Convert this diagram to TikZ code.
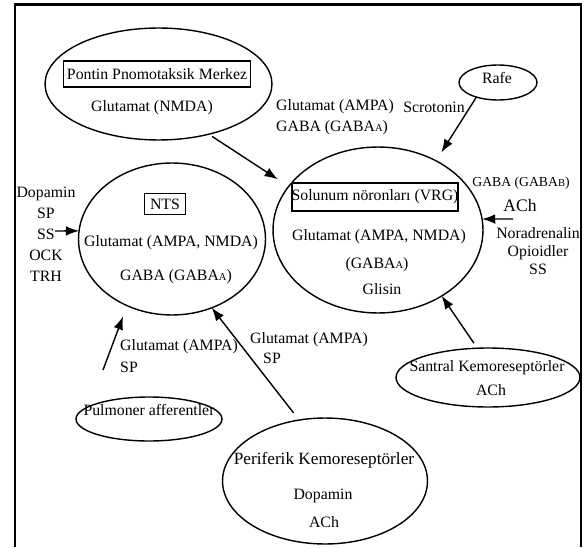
\documentclass[tikz,border=0pt]{standalone}
\usepackage{fontspec}
\setmainfont{Liberation Serif}
\usetikzlibrary{shapes.geometric,arrows.meta}
\newcommand{\lowA}{{\fontsize{6}{6}\selectfont A}}
\newcommand{\lowB}{{\fontsize{6}{6}\selectfont B}}

\begin{document}
\begin{tikzpicture}[x=0.02cm, y=-0.02cm,
                every node/.style={font=\fontsize{9}{11}\selectfont},
                region/.style={draw, ellipse, line width=0.8pt, inner sep=0pt, outer sep=0pt},
                titlebox/.style={draw, line width=1.1pt, inner sep=0pt},
                arr/.style={-{Latex[length=7.5pt,width=5.5pt]}, line width=0.8pt}]

                \useasboundingbox (0,0) rectangle (584,547);

                % Frame
                \draw[line width=1.3pt] (15,547) -- (15,4.5) -- (581,4.5) -- (581,547);

                % Pontin
                \node[region, minimum width=4.54cm, minimum height=2.24cm] (pontin) at (158.5,84) {};
                \node[titlebox, minimum width=3.74cm, minimum height=0.52cm] (pontinT) at (157,74) {Pontin Pnomotaksik Merkez};
                \node (pontinG) at (152,108) {Glutamat (NMDA)};

                % Rafe
                \node[region, minimum width=1.56cm, minimum height=0.70cm] (rafe) at (498,82.5) {};
                \node (rafeT) at (497,78) {Rafe};

                % VRG
                \node[region, minimum width=4.2cm, minimum height=3.32cm] (vrg) at (378,230) {};
                \node[titlebox, minimum width=3.28cm, minimum height=0.56cm] (vrgT) at (375,197) {Solunum nöronları (VRG)};
                \node (vrgG) at (379,237) {Glutamat (AMPA, NMDA)};
                \node (vrgA) at (377,265) {(GABA\lowA)};
                \node (vrgS) at (382,289) {Glisin};

                % NTS
                \node[region, minimum width=3.74cm, minimum height=3.04cm] (nts) at (172,239) {};
                \node[titlebox, minimum width=0.82cm, minimum height=0.42cm] (ntsT) at (165,204) {NTS};
                \node (ntsG) at (171,243) {Glutamat (AMPA, NMDA)};
                \node (ntsA) at (176,277) {GABA (GABA\lowA)};

                % Pulmoner
                \node[region, minimum width=2.92cm, minimum height=0.88cm] (pulm) at (149,419) {};
                \node (pulmT) at (149,410) {Pulmoner afferentler};

                % Periferik
                \node[region, minimum width=4.1cm, minimum height=2.52cm] (peri) at (325,481) {};
                \node[font=\fontsize{9.8}{11}\selectfont] (periT) at (324,460) {Periferik Kemoreseptörler};
                \node (periD) at (323,496) {Dopamin};
                \node (periA) at (324,522) {ACh};

                % Santral
                \node[region, minimum width=3.68cm, minimum height=1.18cm] (sant) at (488,377.5) {};
                \node (santT) at (487,368) {Santral Kemoreseptörler};
                \node (santA) at (491,390) {ACh};

                % Labels
                \node[anchor=west, align=left, font=\fontsize{9}{12}\selectfont] (pontinL) at (270,117.5) {Glutamat (AMPA)\\GABA (GABA\lowA)};
                \node (rafeL) at (434,107) {Scrotonin};
                \node[font=\fontsize{7.8}{9}\selectfont] (rightL1) at (521,183) {GABA (GABA\lowB)};
                \node[font=\fontsize{10}{11}\selectfont] (rightL2) at (520,205) {ACh};
                \node[align=center, font=\fontsize{9}{10.2}\selectfont] (rightL3) at (538,251) {Noradrenalin\\Opioidler\\SS};
                \node[align=center, font=\fontsize{9}{12}\selectfont] (leftL) at (46,234) {Dopamin\\SP\\SS\\OCK\\TRH};
                \node[anchor=west, align=left, font=\fontsize{9}{12.4}\selectfont] (pulmL) at (114,356) {Glutamat (AMPA)\\SP};
                \node (periL1) at (309,340) {Glutamat (AMPA)};
                \node (periL2) at (272,358) {SP};

                % Free ends
                \coordinate (rtail) at (513,219);
                \coordinate (ltail) at (55,231);
                \coordinate (ptail) at (103,370);

                % Arrows
                \draw[arr, shorten <=0.08cm, shorten >=0.26cm] (pontin.-45) -- (vrg.154);
                \draw[arr, shorten >=0.2cm] (rafe.214) -- (vrg.50);
                \draw[arr] (rtail) -- (vrg.6);
                \draw[arr] (ltail) -- (nts.175);
                \draw[arr, shorten >=0.23cm] (ptail) -- (nts.236);
                \draw[arr, shorten <=0.18cm] (peri.113.5) -- (nts.-60);
                \draw[arr, shorten <=0.12cm] (sant.110) -- (vrg.-46);
            \end{tikzpicture}
\end{document}
